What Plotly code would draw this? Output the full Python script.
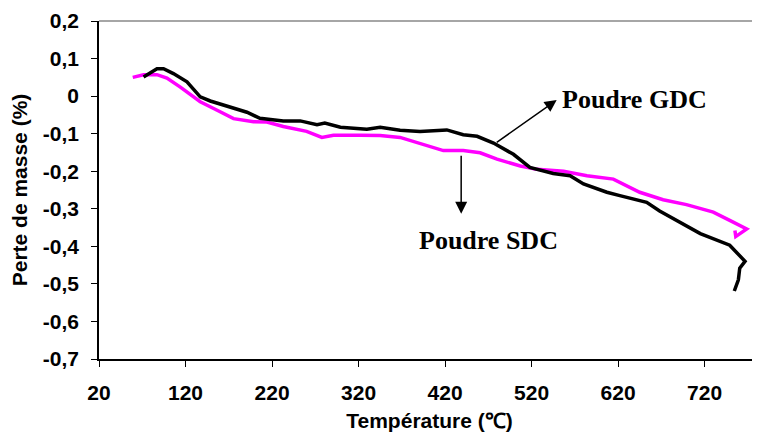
import plotly.graph_objects as go

# Poudre SDC (magenta)
sdc_T = [59, 71.5, 87, 98.5, 114, 137, 156, 175.5, 198.6, 214, 233, 260, 277.6, 291, 322, 345,
         368, 391, 418, 441, 460.5, 480, 507, 526, 557, 584, 614.5, 645, 672, 699, 730, 749,
         768.6, 756, 755]
sdc_v = [0.05, 0.057, 0.057, 0.048, 0.024, -0.015, -0.037, -0.06, -0.068, -0.069, -0.081, -0.094,
         -0.11, -0.104, -0.104, -0.105, -0.11, -0.125, -0.145, -0.145, -0.151, -0.168, -0.186,
         -0.195, -0.2, -0.212, -0.221, -0.256, -0.276, -0.289, -0.309, -0.331,
         -0.354, -0.374, -0.358]

# Poudre GDC (black)
gdc_T = [71.5, 87, 94.6, 106, 121.7, 137, 148.6, 168, 191, 206, 233, 252.6, 272, 281, 299, 329.6,
         345, 368, 391, 422, 441, 457, 476, 499, 518, 545, 564.5, 580, 607, 622, 653, 668, 690.5,
         715, 749, 766.7, 760.6, 759, 754.3]
gdc_v = [0.051, 0.073, 0.073, 0.06, 0.038, -0.002, -0.013, -0.026, -0.043, -0.059, -0.066, -0.066,
         -0.076, -0.072, -0.083, -0.088, -0.083, -0.091, -0.094, -0.09, -0.103, -0.107, -0.125,
         -0.155, -0.19, -0.206, -0.212, -0.234, -0.256, -0.265, -0.283, -0.306, -0.335,
         -0.366, -0.397, -0.44, -0.458, -0.489, -0.519]

x_ticks = [20, 120, 220, 320, 420, 520, 620, 720]
y_ticks = [0.2, 0.1, 0, -0.1, -0.2, -0.3, -0.4, -0.5, -0.6, -0.7]
y_ticktext = ["0,2", "0,1", "0", "-0,1", "-0,2", "-0,3", "-0,4", "-0,5", "-0,6", "-0,7"]

TICK_FONT = dict(family="Liberation Sans, Arial, sans-serif", size=21, color="black", weight="bold")
TITLE_FONT = dict(family="Liberation Sans, Arial, sans-serif", size=21, color="black", weight="bold")
SERIF = dict(family="Liberation Serif, Times New Roman, serif", size=26, color="black", weight="bold")

fig = go.Figure()
fig.add_trace(go.Scatter(x=sdc_T, y=sdc_v, mode="lines", line=dict(color="#ff00ff", width=3.5),
                         name="Poudre SDC", showlegend=False))
fig.add_trace(go.Scatter(x=gdc_T, y=gdc_v, mode="lines", line=dict(color="black", width=3.5),
                         name="Poudre GDC", showlegend=False))

# the page body has an 8px default margin, so the figure is sized to fit the 760x443 window
fig.update_layout(
    width=752, height=435,
    margin=dict(l=91, r=0, t=13, b=84),
    plot_bgcolor="white", paper_bgcolor="white",
    xaxis=dict(range=[20, 784], tickvals=x_ticks, ticktext=[str(t) for t in x_ticks],
               automargin=False, ticklabeloverflow="allow",
               showgrid=False, zeroline=False, showline=True, linecolor="black", linewidth=1.5,
               ticks="outside", ticklen=6, tickcolor="black", tickfont=TICK_FONT,
               ticklabelstandoff=8,
               title=dict(text="Température (℃)", font=TITLE_FONT, standoff=10)),
    yaxis=dict(range=[-0.7, 0.2], tickvals=y_ticks, ticktext=y_ticktext,
               automargin=False, ticklabeloverflow="allow",
               showgrid=False, zeroline=False, showline=True, linecolor="black", linewidth=1.5,
               ticks="outside", ticklen=6, tickcolor="black", tickfont=TICK_FONT,
               ticklabelstandoff=8,
               title=dict(text="Perte de masse (%)", font=TITLE_FONT, standoff=20)),
)

# top frame line (gray)
fig.add_shape(type="line", xref="paper", yref="paper", x0=0, x1=1, y0=1, y1=1,
              line=dict(color="#888888", width=1.5))

# arrows
fig.add_annotation(x=549, y=-0.0105, ax=478, ay=-0.126, xref="x", yref="y", axref="x", ayref="y",
                   showarrow=True, arrowhead=2, arrowsize=1.6, arrowwidth=1.5, arrowcolor="black", text="")
fig.add_annotation(x=438.6, y=-0.313, ax=438.6, ay=-0.155, xref="x", yref="y", axref="x", ayref="y",
                   showarrow=True, arrowhead=2, arrowsize=1.6, arrowwidth=1.5, arrowcolor="black", text="")

# labels
fig.add_annotation(x=553, y=-0.01, xref="x", yref="y", text="Poudre GDC", showarrow=False,
                   xanchor="left", yanchor="middle", font=SERIF)
fig.add_annotation(x=387.4, y=-0.384, xref="x", yref="y", text="Poudre SDC", showarrow=False,
                   xanchor="left", yanchor="middle", font=SERIF)

fig.write_html("out.html")
